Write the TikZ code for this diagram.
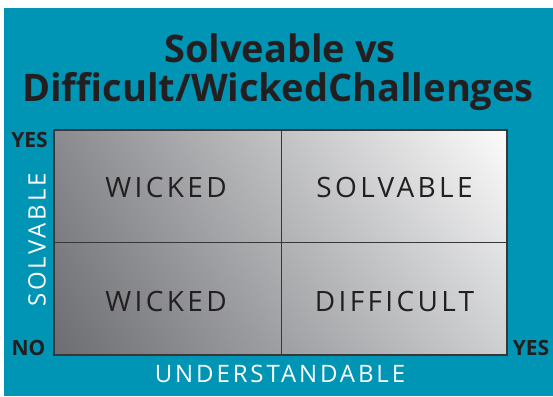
\documentclass[tikz,border=0pt]{standalone}
\usepackage{fontspec}
\usetikzlibrary{shadings}
\newfontfamily\headfont{Open Sans}
\newfontfamily\quadfont[LetterSpace=12]{Open Sans}
\definecolor{teal0}{RGB}{0,148,181}
\definecolor{ink}{RGB}{35,31,32}
\definecolor{gridline}{RGB}{55,55,58}
\definecolor{shadeLL}{RGB}{108,109,113}
\definecolor{shadeUL}{RGB}{138,139,143}
\definecolor{shadeLR}{RGB}{206,207,209}
\definecolor{shadeUR}{RGB}{252,252,252}
\tikzset{
  quad/.style={font=\quadfont\fontsize{28}{28}\selectfont, text=ink, inner sep=0pt},
  axis/.style={font=\quadfont\fontsize{24}{24}\selectfont, text=white, inner sep=0pt},
  yesno/.style={font=\headfont\bfseries\fontsize{21}{21}\selectfont, text=ink, inner sep=0pt},
  title/.style={font=\headfont\bfseries\fontsize{38}{38}\selectfont, text=ink, inner sep=0pt, anchor=base}
}
\begin{document}
\begin{tikzpicture}[x=1pt,y=-1pt]
\useasboundingbox (0,0) rectangle (553,396);
\fill[teal0] (4,8) rectangle (553,396);
\node[title] (title1) at (280,62){Solveable vs};
\node[title] (title2) at (278,101){Difficult/WickedChallenges};
\shade[lower left=shadeLL, upper left=shadeUL, lower right=shadeLR, upper right=shadeUR]
  (54,130) rectangle (507,355);
\coordinate (gtop) at (281,130);
\coordinate (gbot) at (281,355);
\coordinate (gleft) at (54,242);
\coordinate (gright) at (507,242);
\draw[gridline, line width=0.9pt](gtop) -- (gbot);
\draw[gridline, line width=0.9pt](gleft) -- (gright);
\draw[gridline, line width=1.4pt] (54,130) rectangle (507,355);
\node[quad] (q1) at (166,187){WICKED};
\node[quad] (q2) at (394.5,187){SOLVABLE};
\node[quad] (q3) at (166,301.5){WICKED};
\node[quad] (q4) at (394.5,301.5){DIFFICULT};
\node[axis, rotate=90] (yaxis) at (37,240){SOLVABLE};
\node[axis] (xaxis) at (280,373.5){UNDERSTANDABLE};
\node[yesno] (yes1) at (29.5,139.5){YES};
\node[yesno] (no1) at (28.5,347.5){NO};
\node[yesno] (yes2) at (531,347.5){YES};

\end{tikzpicture}
\end{document}
